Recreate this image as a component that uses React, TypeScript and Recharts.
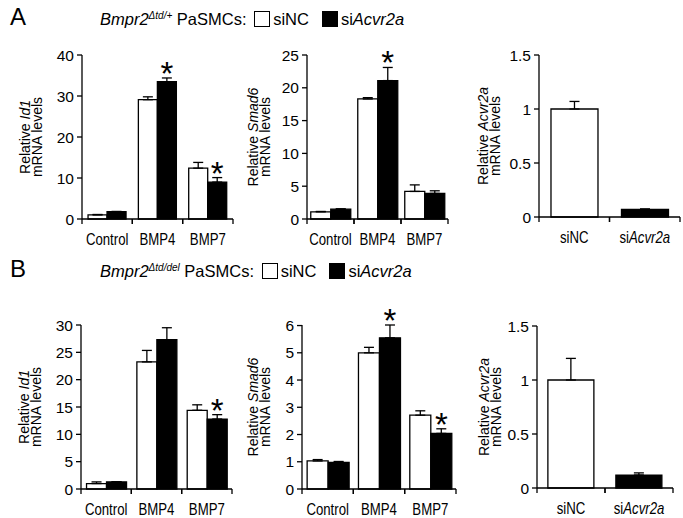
import React from 'react';
import { BarChart, Bar, XAxis, YAxis, ErrorBar, LabelList, Cell } from 'recharts';

const treatments = ['Control', 'BMP4', 'BMP7'];
const sirnas = ['siNC', 'siAcvr2a'];
const italicWords = ['Acvr2a', 'Id1', 'Smad6'];

// A: Bmpr2 Δtd/+ PaSMCs
const aId1NC = [1.0, 29.1, 12.4];
const aId1NCErr = [0.1, 0.7, 1.4];
const aId1KD = [1.8, 33.5, 9.0];
const aId1KDErr = [0.05, 0.9, 1.1];
const aId1Sig = [false, true, true];
const aId1Ticks = [0, 10, 20, 30, 40];

const aSmad6NC = [1.1, 18.3, 4.2];
const aSmad6NCErr = [0.05, 0.2, 1.0];
const aSmad6KD = [1.5, 21.1, 3.9];
const aSmad6KDErr = [0.05, 2.0, 0.4];
const aSmad6Sig = [false, true, false];
const aSmad6Ticks = [0, 5, 10, 15, 20, 25];

const aAcvr2a = [1.0, 0.07];
const aAcvr2aErr = [0.07, 0.005];

// B: Bmpr2 Δtd/del PaSMCs
const bId1NC = [1.0, 23.25, 14.4];
const bId1NCErr = [0.3, 2.1, 1.0];
const bId1KD = [1.3, 27.3, 12.8];
const bId1KDErr = [0.05, 2.2, 0.8];
const bId1Sig = [false, false, true];
const bId1Ticks = [0, 5, 10, 15, 20, 25, 30];

const bSmad6NC = [1.03, 5.0, 2.71];
const bSmad6NCErr = [0.05, 0.2, 0.16];
const bSmad6KD = [0.98, 5.55, 2.04];
const bSmad6KDErr = [0.03, 0.47, 0.17];
const bSmad6Sig = [false, true, true];
const bSmad6Ticks = [0, 1, 2, 3, 4, 5, 6];

const bAcvr2a = [1.0, 0.12];
const bAcvr2aErr = [0.2, 0.02];
const acvrTicks = [0, 0.5, 1, 1.5];

const FONT = '"Liberation Sans", Arial, Helvetica, sans-serif';
const MT = 28;
const MR = 3;
const XH = 32;
const SW = 1.3;

type Layout = { left: number; axisX: number; xEnd: number; top: number; bottom: number; labelX: number; gap: string };

const layA1: Layout = { left: 0, axisX: 82, xEnd: 233, top: 55, bottom: 219, labelX: 31, gap: '12%' };
const layA2: Layout = { left: 230, axisX: 307, xEnd: 448, top: 55, bottom: 219, labelX: 259, gap: '8%' };
const layA3: Layout = { left: 460, axisX: 539, xEnd: 680, top: 55, bottom: 217, labelX: 489, gap: '17%' };
const layB1: Layout = { left: 0, axisX: 81, xEnd: 232, top: 325, bottom: 489, labelX: 30, gap: '11%' };
const layB2: Layout = { left: 230, axisX: 302, xEnd: 456, top: 325, bottom: 489, labelX: 259, gap: '10%' };
const layB3: Layout = { left: 460, axisX: 537, xEnd: 673, top: 326, bottom: 488, labelX: 489.5, gap: '16%' };

function splitItalic(text: string) {
  const re = new RegExp(`(${italicWords.join('|')})`);
  return text.split(re).filter((s) => s !== '').map((t) => ({ t, it: italicWords.includes(t) }));
}

// category ticks: marks at the band edges, condensed label in the middle
function CatTick(props: any) {
  const { x, y, payload, band } = props;
  const half = payload.offset ?? band / 2;
  return (
    <g>
      <line x1={x - half} x2={x - half} y1={y} y2={y + 5} stroke="#000" strokeWidth={SW} />
      <line x1={x + half} x2={x + half} y1={y} y2={y + 5} stroke="#000" strokeWidth={SW} />
      <text transform={`translate(${x},${y + 26}) scale(0.8,1)`} textAnchor="middle" fontSize={16.5} fontFamily={FONT} fill="#000">
        {splitItalic(String(payload.value)).map((p, i) => (
          <tspan key={i} fontStyle={p.it ? 'italic' : 'normal'}>{p.t}</tspan>
        ))}
      </text>
    </g>
  );
}

function YTitle({ layout, gene }: { layout: Layout; gene: string }) {
  const h = layout.bottom - layout.top;
  const cy = (layout.top + layout.bottom) / 2;
  return (
    <div
      style={{
        position: 'absolute', left: layout.labelX - h / 2, top: cy - 12, width: h, height: 24,
        transform: 'rotate(-90deg)', transformOrigin: 'center', textAlign: 'center',
        fontSize: 14, lineHeight: '12px', fontFamily: FONT, whiteSpace: 'nowrap',
      }}
    >
      <div>Relative <i>{gene}</i></div>
      <div>mRNA levels</div>
    </div>
  );
}

const starContent = (rows: any[]) => (props: any) => {
  const row = rows[props.index];
  if (!row || !row.sig) return null;
  const vb = props.viewBox || props;
  const { x, y, width, height } = vb;
  const unit = height / row.kd;
  const errTop = y - row.kdErr[1] * unit;
  return (
    <text x={x + width / 2} y={errTop + 7} textAnchor="middle" fontSize={33} fontFamily={FONT} fill="#000">*</text>
  );
};

function yAxisFor(layout: Layout, ticks: number[]) {
  return (
    <YAxis
      type="number"
      domain={[0, ticks[ticks.length - 1]]}
      ticks={ticks}
      interval={0}
      width={layout.axisX - layout.left}
      tickSize={5}
      tickMargin={3}
      axisLine={{ stroke: '#000', strokeWidth: SW }}
      tickLine={{ stroke: '#000', strokeWidth: SW }}
      tick={{ fill: '#000', fontSize: 15.5, fontFamily: FONT }}
    />
  );
}

function xAxisFor(layout: Layout, n: number) {
  const band = (layout.xEnd - layout.axisX) / n;
  return (
    <XAxis
      dataKey="name"
      type="category"
      height={XH}
      interval={0}
      tickLine={false}
      tickSize={0}
      tickMargin={0}
      axisLine={{ stroke: '#000', strokeWidth: SW }}
      tick={(p: any) => <CatTick {...p} band={band} />}
    />
  );
}

function GroupPanel({ layout, gene, nc, ncErr, kd, kdErr, sig, ticks }: any) {
  const rows = treatments.map((name, i) => ({
    name, nc: nc[i], ncErr: [0, ncErr[i]], kd: kd[i], kdErr: [0, kdErr[i]], sig: sig[i],
  }));
  const w = layout.xEnd - layout.left + MR;
  const h = MT + (layout.bottom - layout.top) + XH;
  return (
    <>
      <div style={{ position: 'absolute', left: layout.left, top: layout.top - MT }}>
        <BarChart width={w} height={h} data={rows} margin={{ top: MT, right: MR, bottom: 0, left: 0 }} barGap={0} barCategoryGap={layout.gap}>
          {xAxisFor(layout, rows.length)}
          {yAxisFor(layout, ticks)}
          <Bar dataKey="nc" fill="#fff" stroke="#000" strokeWidth={SW} isAnimationActive={false}>
            <ErrorBar dataKey="ncErr" direction="y" width={5} stroke="#000" strokeWidth={SW} isAnimationActive={false} />
          </Bar>
          <Bar dataKey="kd" fill="#000" stroke="#000" strokeWidth={SW} isAnimationActive={false}>
            <ErrorBar dataKey="kdErr" direction="y" width={5} stroke="#000" strokeWidth={SW} isAnimationActive={false} />
            <LabelList dataKey="sig" content={starContent(rows)} />
          </Bar>
        </BarChart>
      </div>
      <YTitle layout={layout} gene={gene} />
    </>
  );
}

function KnockdownPanel({ layout, vals, errs }: any) {
  const rows = sirnas.map((name, i) => ({ name, v: vals[i], err: [0, errs[i]] }));
  const w = layout.xEnd - layout.left + MR;
  const h = MT + (layout.bottom - layout.top) + XH;
  return (
    <>
      <div style={{ position: 'absolute', left: layout.left, top: layout.top - MT }}>
        <BarChart width={w} height={h} data={rows} margin={{ top: MT, right: MR, bottom: 0, left: 0 }} barCategoryGap={layout.gap}>
          {xAxisFor(layout, rows.length)}
          {yAxisFor(layout, acvrTicks)}
          <Bar dataKey="v" stroke="#000" strokeWidth={SW} isAnimationActive={false}>
            {rows.map((r, i) => (
              <Cell key={r.name} fill={i === 0 ? '#fff' : '#000'} />
            ))}
            <ErrorBar dataKey="err" direction="y" width={5} stroke="#000" strokeWidth={SW} isAnimationActive={false} />
          </Bar>
        </BarChart>
      </div>
      <YTitle layout={layout} gene="Acvr2a" />
    </>
  );
}

function LegendRow({ top, letter, genotype }: { top: number; letter: string; genotype: string }) {
  const box = (fill: string) => (
    <span style={{ display: 'inline-block', width: 16, height: 16, boxSizing: 'border-box', border: '1.3px solid #000', background: fill, verticalAlign: '-2px' }} />
  );
  return (
    <>
      <div style={{ position: 'absolute', left: 10, top: top - 5, fontSize: 24, lineHeight: '24px', fontFamily: FONT }}>{letter}</div>
      <div style={{ position: 'absolute', left: 100, top, fontSize: 16.5, lineHeight: '18px', fontFamily: FONT, whiteSpace: 'nowrap' }}>
        <i>Bmpr2</i>
        <span style={{ fontSize: 10, fontStyle: 'italic', position: 'relative', top: -6 }}>{genotype}</span>
        {' PaSMCs: '}
        <span style={{ marginLeft: 3 }}>{box('#fff')}</span>
        <span style={{ marginLeft: 3 }}>siNC</span>
        <span style={{ marginLeft: 13 }}>{box('#000')}</span>
        <span style={{ marginLeft: 3 }}>si<i>Acvr2a</i></span>
      </div>
    </>
  );
}

export default function App() {
  return (
    <div style={{ position: 'absolute', left: 0, top: 0, width: 683, height: 518, background: '#fff', color: '#000', fontFamily: FONT, overflow: 'hidden' }}>
      <LegendRow top={9.5} letter="A" genotype={'\u0394td/+'} />
      <GroupPanel layout={layA1} gene="Id1" nc={aId1NC} ncErr={aId1NCErr} kd={aId1KD} kdErr={aId1KDErr} sig={aId1Sig} ticks={aId1Ticks} />
      <GroupPanel layout={layA2} gene="Smad6" nc={aSmad6NC} ncErr={aSmad6NCErr} kd={aSmad6KD} kdErr={aSmad6KDErr} sig={aSmad6Sig} ticks={aSmad6Ticks} />
      <KnockdownPanel layout={layA3} vals={aAcvr2a} errs={aAcvr2aErr} />

      <LegendRow top={261.5} letter="B" genotype={'\u0394td/del'} />
      <GroupPanel layout={layB1} gene="Id1" nc={bId1NC} ncErr={bId1NCErr} kd={bId1KD} kdErr={bId1KDErr} sig={bId1Sig} ticks={bId1Ticks} />
      <GroupPanel layout={layB2} gene="Smad6" nc={bSmad6NC} ncErr={bSmad6NCErr} kd={bSmad6KD} kdErr={bSmad6KDErr} sig={bSmad6Sig} ticks={bSmad6Ticks} />
      <KnockdownPanel layout={layB3} vals={bAcvr2a} errs={bAcvr2aErr} />
    </div>
  );
}
